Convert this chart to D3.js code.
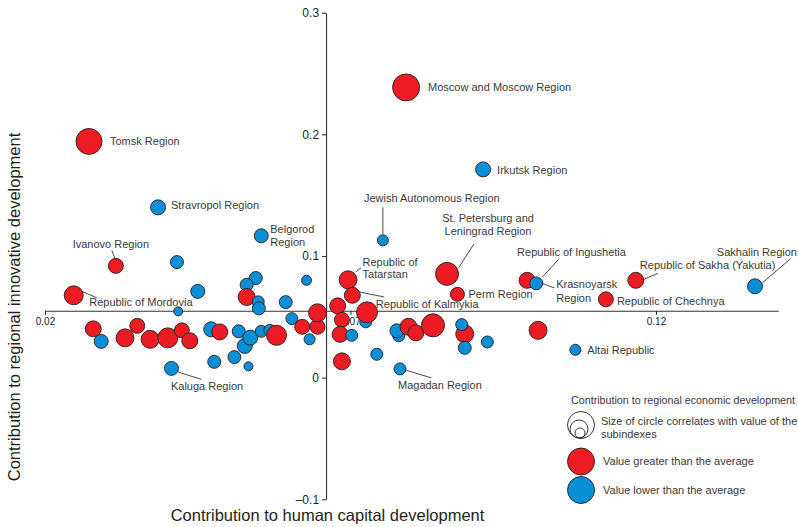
<!DOCTYPE html>
<html>
<head>
<meta charset="utf-8">
<script src="https://cdn.jsdelivr.net/npm/d3@7"></script>
<style>
  body { margin: 0; background: #fff; }
  text { font-family: "Liberation Sans", Arial, sans-serif; }
</style>
</head>
<body>
<svg id="chart" width="798" height="527"></svg>
<script>
// region names ("" = not labelled on the chart)
const regions = [
  "Tomsk Region", "Republic of Mordovia", "", "", "Ivanovo Region", "", "", "", "Stravropol Region", "",
  "Kaluga Region", "", "", "", "", "", "", "", "", "",
  "", "", "", "", "", "", "", "", "", "Belgorod Region",
  "", "", "", "", "", "", "", "", "", "",
  "", "", "", "", "", "Republic of Tatarstan", "Republic of Kalmykia", "", "", "",
  "Jewish Autonomous Region", "", "", "Magadan Region", "", "", "Moscow and Moscow Region", "", "St. Petersburg and Leningrad Region", "Perm Region",
  "", "", "", "Irkutsk Region", "", "Republic of Ingushetia", "Krasnoyarsk Region", "", "Altai Republic", "Republic of Chechnya",
  "Republic of Sakha (Yakutia)", "Sakhalin Region"
];
// contribution to human capital development (x)
const human = [
  0.0272, 0.0247, 0.0279, 0.0292, 0.0316, 0.0351, 0.0331, 0.0372, 0.0385, 0.0401,
  0.0407, 0.0416, 0.0418, 0.0424, 0.0437, 0.0450, 0.0472, 0.0486, 0.0477, 0.0517,
  0.0510, 0.0527, 0.0536, 0.0533, 0.0545, 0.0530, 0.0530, 0.0549, 0.0550, 0.0554,
  0.0554, 0.0568, 0.0579, 0.0594, 0.0604, 0.0633, 0.0621, 0.0646, 0.0646, 0.0628,
  0.0679, 0.0686, 0.0683, 0.0686, 0.0702, 0.0696, 0.0703, 0.0725, 0.0727, 0.0743,
  0.0753, 0.0779, 0.0776, 0.0781, 0.0795, 0.0807, 0.0791, 0.0835, 0.0858, 0.0875,
  0.0887, 0.0882, 0.0887, 0.0917, 0.0924, 0.0989, 0.1004, 0.1007, 0.1068, 0.1118,
  0.1167, 0.1362
];
// contribution to regional innovative development (y)
const innov = [
  0.1942, 0.0677, 0.0401, 0.0298, 0.0919, 0.0426, 0.0327, 0.0315, 0.1400, 0.0327,
  0.0076, 0.0950, 0.0545, 0.0389, 0.0303, 0.0709, 0.0397, 0.0376, 0.0130, 0.0381,
  0.0169, 0.0261, 0.0329, 0.0093, 0.0819, 0.0763, 0.0663, 0.0623, 0.0570, 0.1166,
  0.0381, 0.0389, 0.0348, 0.0621, 0.0485, 0.0315, 0.0418, 0.0418, 0.0533, 0.0800,
  0.0590, 0.0475, 0.0356, 0.0134, 0.0348, 0.0804, 0.0677, 0.0459, 0.0537, 0.0192,
  0.1129, 0.0344, 0.0385, 0.0072, 0.0418, 0.0368, 0.2386, 0.0430, 0.0853, 0.0685,
  0.0360, 0.0436, 0.0245, 0.1712, 0.0293, 0.0800, 0.0775, 0.0389, 0.0229, 0.0644,
  0.0800, 0.0751
];
// contribution to regional economic development (circle size)
const econ = [
  0.0517, 0.0276, 0.0196, 0.0150, 0.0172, 0.0172, 0.0248, 0.0248, 0.0172, 0.0306,
  0.0150, 0.0129, 0.0062, 0.0172, 0.0196, 0.0150, 0.0172, 0.0196, 0.0129, 0.0129,
  0.0129, 0.0172, 0.0172, 0.0062, 0.0129, 0.0129, 0.0221, 0.0110, 0.0129, 0.0150,
  0.0110, 0.0110, 0.0306, 0.0129, 0.0110, 0.0093, 0.0172, 0.0172, 0.0248, 0.0077,
  0.0196, 0.0172, 0.0196, 0.0221, 0.0110, 0.0248, 0.0196, 0.0110, 0.0338, 0.0110,
  0.0093, 0.0110, 0.0150, 0.0110, 0.0221, 0.0196, 0.0558, 0.0405, 0.0405, 0.0150,
  0.0248, 0.0110, 0.0129, 0.0172, 0.0110, 0.0196, 0.0129, 0.0248, 0.0093, 0.0172,
  0.0196, 0.0172
];
// 1 = value greater than the average, 0 = lower
const above = [
  1, 1, 1, 0, 1, 1, 1, 1, 0, 1,
  0, 0, 0, 1, 1, 0, 0, 1, 0, 0,
  0, 0, 0, 0, 0, 0, 1, 0, 0, 0,
  0, 0, 1, 0, 0, 0, 1, 1, 1, 0,
  1, 1, 1, 1, 0, 1, 1, 0, 1, 0,
  0, 0, 0, 0, 1, 1, 1, 1, 1, 1,
  1, 0, 0, 0, 0, 1, 0, 1, 0, 1,
  1, 0
];
const xTicks = [0.02, 0.07, 0.12];
const yTicks = [-0.1, 0, 0.1, 0.2, 0.3];
const avgHuman = 0.066;   // where the vertical axis crosses
const avgInnov = 0.055;   // where the horizontal axis crosses

// label placement (offsets from the circle centre, px)
const labelLayout = {
  "Moscow and Moscow Region": { lines: ["Moscow and Moscow Region"], dx: 22, dy: [0] },
  "Tomsk Region": { lines: ["Tomsk Region"], dx: 21, dy: [0] },
  "Stravropol Region": { lines: ["Stravropol Region"], dx: 13, dy: [-2] },
  "Belgorod Region": { lines: ["Belgorod", "Region"], dx: 9, dy: [-7, 6] },
  "Ivanovo Region": { lines: ["Ivanovo Region"], dx: -5, dy: [-22], anchor: "middle", leader: [-4, -15, -1, -7.5] },
  "Republic of Mordovia": { lines: ["Republic of Mordovia"], dx: 15.5, dy: [7], leader: [8, -4, 23, 2.5] },
  "Jewish Autonomous Region": { lines: ["Jewish Autonomous Region"], dx: -19, dy: [-42], leader: [0, -33, 0, -6] },
  "Irkutsk Region": { lines: ["Irkutsk Region"], dx: 14, dy: [0.5] },
  "St. Petersburg and Leningrad Region": { lines: ["St. Petersburg and", "Leningrad Region"], dx: 41, dy: [-55.5, -42.5], anchor: "middle", leader: [27, -30, 11.5, -6] },
  "Perm Region": { lines: ["Perm Region"], dx: 11, dy: [0] },
  "Republic of Ingushetia": { lines: ["Republic of Ingushetia"], dx: -10, dy: [-28], leader: [32, -21.5, 15, -3] },
  "Krasnoyarsk Region": { lines: ["Krasnoyarsk", "Region"], dx: 20, dy: [1, 14.5], leader: [6, 0, 18, 4.5] },
  "Republic of Sakha (Yakutia)": { lines: ["Republic of Sakha (Yakutia)"], dx: 4, dy: [-15], leader: [8, -1, 22, -7] },
  "Sakhalin Region": { lines: ["Sakhalin Region"], dx: 42, dy: [-34], anchor: "end", leader: [7.5, -3.5, 35.5, -27.5] },
  "Republic of Chechnya": { lines: ["Republic of Chechnya"], dx: 11, dy: [1.5] },
  "Altai Republic": { lines: ["Altai Republic"], dx: 12, dy: [0.5] },
  "Magadan Region": { lines: ["Magadan Region"], dx: -2, dy: [16.5], leader: [6.5, 1.5, 31.5, 9] },
  "Kaluga Region": { lines: ["Kaluga Region"], dx: -0.5, dy: [18], leader: [6.8, 3.7, 30, 11] },
  "Republic of Tatarstan": { lines: ["Republic of", "Tatarstan"], dx: 14.5, dy: [-18, -5.5], leader: [8, -8, 13, -12] },
  "Republic of Kalmykia": { lines: ["Republic of Kalmykia"], dx: 23.5, dy: [9], leader: [7.5, -3.3, 31.8, 1.7] }
};

const red = "#ed1c24", blue = "#0a8fd7", ink = "#231f20", labelInk = "#3a3a3a";

const svg = d3.select("#chart");

const x = d3.scaleLinear().domain([0.02, 0.14]).range([45, 778.2]);
const y = d3.scaleLinear().domain([-0.1, 0.3]).range([499.3, 12.7]);
const r = d3.scaleSqrt().domain([0, 0.06]).range([0, 14]);

const points = regions.map((name, i) => ({
  name, hx: human[i], iy: innov[i], size: econ[i], above: above[i]
}));

// axes
const yAxis = svg.append("g")
  .attr("transform", `translate(${x(avgHuman)},0)`)
  .call(d3.axisLeft(y).tickValues(yTicks).tickSize(4).tickSizeOuter(0)
    .tickFormat(d => d === 0 ? "0" : d < 0 ? "\u2013" + Math.abs(d).toFixed(1) : d.toFixed(1)));
yAxis.selectAll("text").attr("font-size", 12).attr("fill", ink)
  .style("font-family", "'Liberation Sans', Arial, sans-serif");

const xAxis = svg.append("g")
  .attr("transform", `translate(0,${y(avgInnov)})`)
  .call(d3.axisBottom(x).tickValues(xTicks).tickSize(4).tickSizeOuter(0)
    .tickFormat(d3.format(".2f")));
xAxis.selectAll("text").attr("font-size", 10).attr("fill", ink)
  .style("font-family", "'Liberation Sans', Arial, sans-serif");

svg.selectAll(".domain, .tick line").attr("stroke", "#333").attr("stroke-width", 1.1);

// leader lines
const labelled = points.filter(d => d.name && labelLayout[d.name]);
svg.append("g").selectAll("line")
  .data(labelled.filter(d => labelLayout[d.name].leader))
  .enter().append("line")
  .attr("x1", d => x(d.hx) + labelLayout[d.name].leader[0])
  .attr("y1", d => y(d.iy) + labelLayout[d.name].leader[1])
  .attr("x2", d => x(d.hx) + labelLayout[d.name].leader[2])
  .attr("y2", d => y(d.iy) + labelLayout[d.name].leader[3])
  .attr("stroke", "#333").attr("stroke-width", 0.9);

// circles
svg.append("g").selectAll("circle")
  .data(points).enter().append("circle")
  .attr("cx", d => x(d.hx))
  .attr("cy", d => y(d.iy))
  .attr("r", d => r(d.size))
  .attr("fill", d => d.above ? red : blue)
  .attr("stroke", ink).attr("stroke-width", 0.9);

// labels
const lab = svg.append("g").selectAll("text")
  .data(labelled).enter().append("text")
  .attr("font-size", 11).attr("fill", labelInk)
  .attr("text-anchor", d => labelLayout[d.name].anchor || "start");
lab.each(function (d) {
  const L = labelLayout[d.name];
  const t = d3.select(this);
  L.lines.forEach((line, k) => {
    t.append("tspan")
      .attr("x", x(d.hx) + L.dx)
      .attr("y", y(d.iy) + L.dy[k])
      .attr("dy", "0.35em")
      .text(line);
  });
});

// axis titles
svg.append("text")
  .attr("x", 327.5).attr("y", 521)
  .attr("text-anchor", "middle").attr("font-size", 16.5).attr("fill", ink)
  .text("Contribution to human capital development");
svg.append("text")
  .attr("transform", "translate(20,307) rotate(-90)")
  .attr("text-anchor", "middle").attr("font-size", 16.5).attr("fill", ink)
  .text("Contribution to regional innovative development");

// legend
const lg = svg.append("g");
lg.append("text").attr("x", 571).attr("y", 400).attr("dy", "0.35em")
  .attr("font-size", 10.6).attr("fill", labelInk)
  .attr("textLength", 224).attr("lengthAdjust", "spacingAndGlyphs")
  .text("Contribution to regional economic development");
[[581, 425, 13.5], [579, 429, 9], [580, 433, 5]].forEach(c => {
  lg.append("circle").attr("cx", c[0]).attr("cy", c[1]).attr("r", c[2])
    .attr("fill", "none").attr("stroke", ink).attr("stroke-width", 0.9);
});
lg.append("text").attr("x", 601).attr("y", 421.5).attr("dy", "0.35em")
  .attr("font-size", 11).attr("fill", labelInk)
  .text("Size of circle correlates with value of the");
lg.append("text").attr("x", 601).attr("y", 434).attr("dy", "0.35em")
  .attr("font-size", 11).attr("fill", labelInk)
  .text("subindexes");
[[461.5, red, "Value greater than the average"], [490, blue, "Value lower than the average"]].forEach(e => {
  lg.append("circle").attr("cx", 581).attr("cy", e[0]).attr("r", 13.5)
    .attr("fill", e[1]).attr("stroke", ink).attr("stroke-width", 0.9);
  lg.append("text").attr("x", 603).attr("y", e[0]).attr("dy", "0.35em")
    .attr("font-size", 11).attr("fill", labelInk).text(e[2]);
});
</script>
</body>
</html>
